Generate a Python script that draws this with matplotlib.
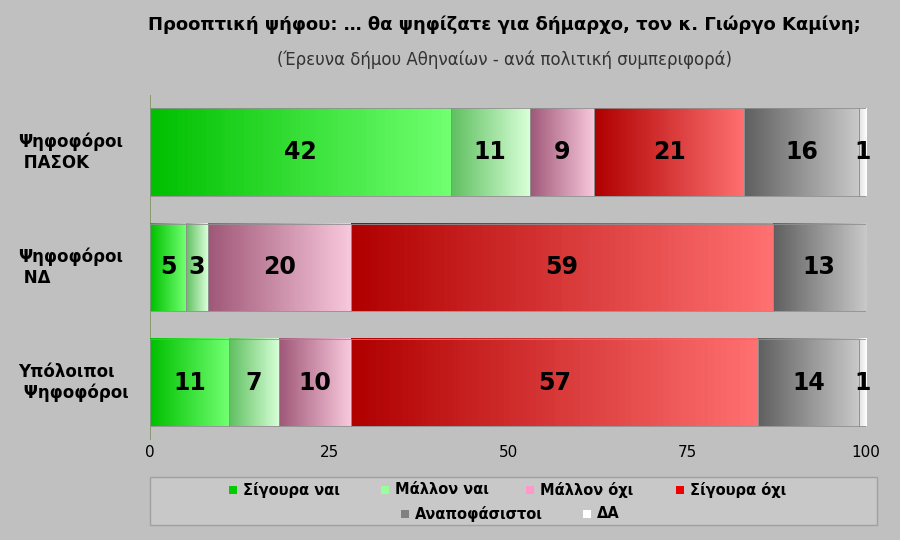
import matplotlib
matplotlib.use("Agg")
import matplotlib.pyplot as plt
import numpy as np
from matplotlib.colors import LinearSegmentedColormap

groups = ["Ψηφοφόροι\n ΠΑΣΟΚ", "Ψηφοφόροι\n ΝΔ", "Υπόλοιποι\n Ψηφοφόροι"]
series = ["Σίγουρα ναι", "Μάλλον ναι", "Μάλλον όχι", "Σίγουρα όχι", "Αναποφάσιστοι", "ΔΑ"]
values = [
    [42, 11, 9, 21, 16, 1],
    [5, 3, 20, 59, 13, 0],
    [11, 7, 10, 57, 14, 1],
]
grad = [("#00c000", "#70ff70"), ("#60c060", "#d8ffd8"), ("#a05878", "#f8c8dc"),
        ("#b00000", "#ff7070"), ("#606060", "#c8c8c8"), ("#e0e0e0", "#ffffff")]
legend_cols = ["#00cc00", "#99ff99", "#ff99cc", "#ee0000", "#808080", "#ffffff"]

fig = plt.figure(figsize=(9, 5.4), dpi=100, facecolor="#c0c0c0")
ax = fig.add_axes([0.167, 0.185, 0.795, 0.64])
ax.set_facecolor("#c0c0c0")
ax.set_xlim(0, 100)
ax.set_ylim(2.5, -0.5)
h = 0.76
for i, row in enumerate(values):
    left = 0
    for j, v in enumerate(row):
        if v > 0:
            cmap = LinearSegmentedColormap.from_list("g", grad[j])
            ax.imshow(np.linspace(0, 1, 64).reshape(1, -1), cmap=cmap, aspect="auto",
                      extent=(left, left + v, i + h / 2, i - h / 2), zorder=2)
            ax.add_patch(plt.Rectangle((left, i - h / 2), v, h, fill=False, ec="#909090", lw=0.6, zorder=3))
            ax.text(left + v / 2, i, str(v), ha="center", va="center", fontsize=17,
                    fontweight="bold", color="black", zorder=4)
        left += v
ax.set_yticks(range(3))
ax.set_yticklabels([])
for i, g in enumerate(groups):
    fig.text(0.02, ax.transData.transform((0, i))[1] / 540, g, ha="left", va="center",
             fontsize=12, fontweight="bold")
ax.set_xticks([0, 25, 50, 75, 100])
ax.tick_params(length=0, labelsize=11)
for s in ax.spines.values():
    s.set_visible(False)
ax.axvline(-0.5, color="#8a9a70", lw=5, zorder=1)

fig.text(0.56, 0.945, "Προοπτική ψήφου: … θα ψηφίζατε για δήμαρχο, τον κ. Γιώργο Καμίνη;",
         ha="center", fontsize=13, fontweight="bold")
fig.text(0.56, 0.88, "(Έρευνα δήμου Αθηναίων - ανά πολιτική συμπεριφορά)", ha="center", fontsize=12, color="#333333")

# legend box drawn manually (row-major order)
fig.patches.append(plt.Rectangle((150 / 900, 1 - 525 / 540), 727 / 900, 48 / 540, transform=fig.transFigure,
                                 fc="#c8c8c8", ec="#a0a0a0", lw=1))
pos = [(233, 490), (385, 490), (530, 490), (680, 490), (405, 514), (587, 514)]
for (px, py), lab, c in zip(pos, series, legend_cols):
    fig.patches.append(plt.Rectangle(((px - 4) / 900, 1 - (py + 4) / 540), 8 / 900, 8 / 540,
                                     transform=fig.transFigure, fc=c, ec="none"))
    fig.text((px + 10) / 900, 1 - py / 540, lab, ha="left", va="center", fontsize=10.5, fontweight="bold")
fig.savefig("out.png", dpi=100, facecolor=fig.get_facecolor())
